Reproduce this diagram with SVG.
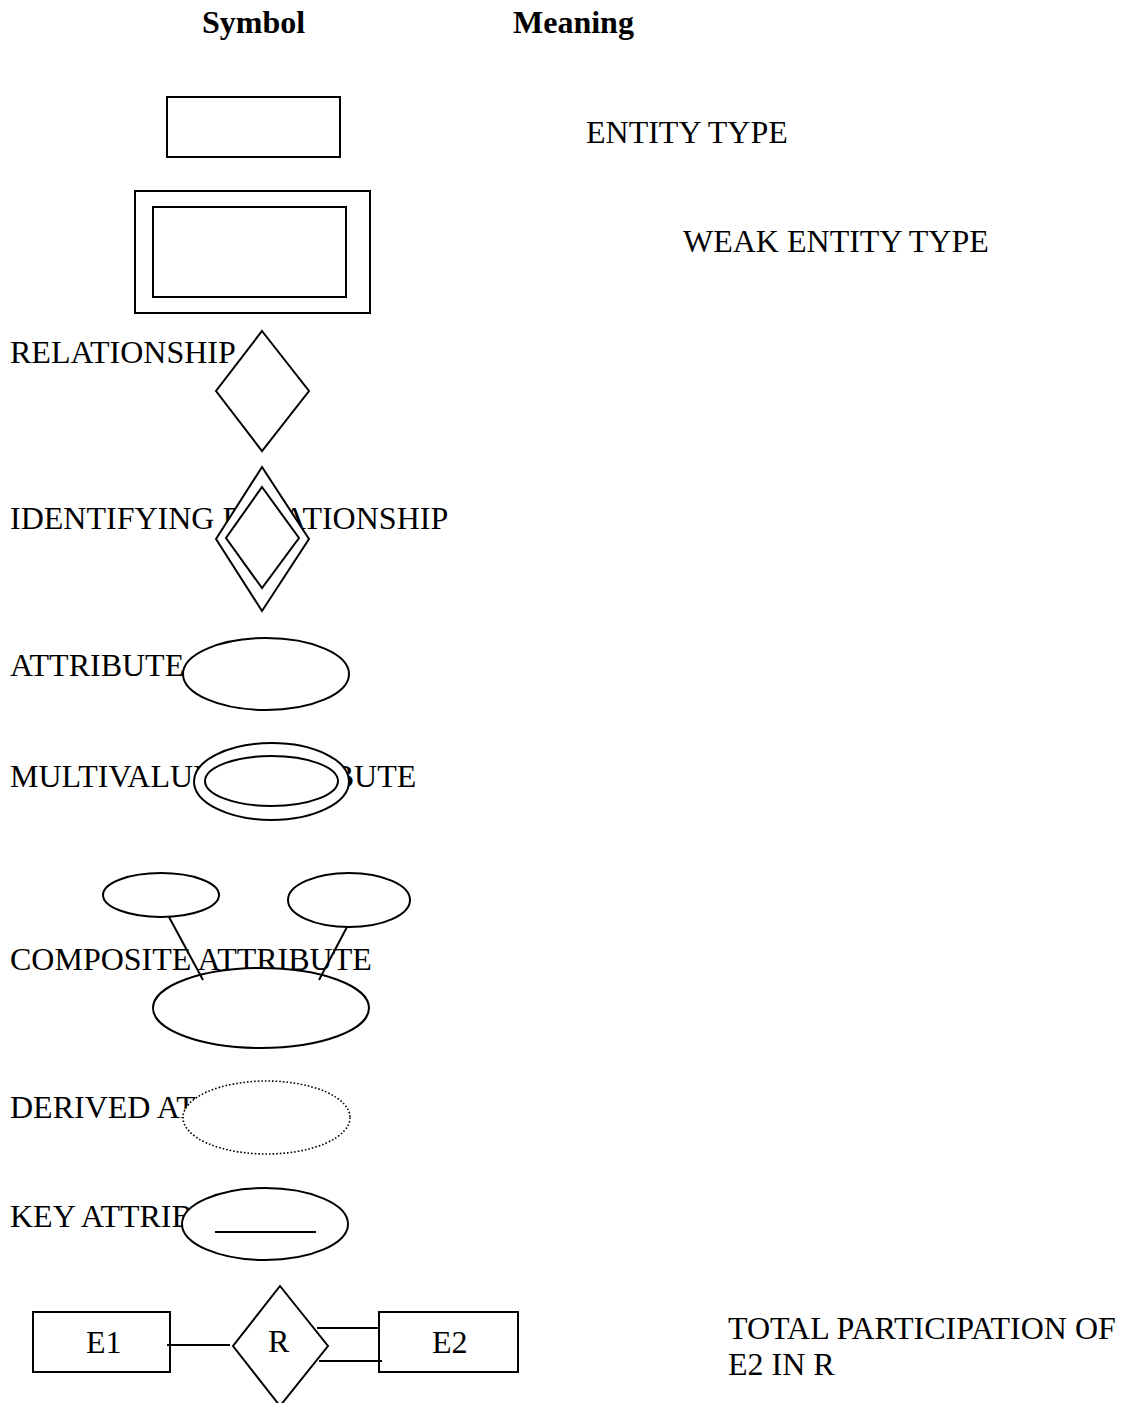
<svg xmlns="http://www.w3.org/2000/svg" width="1143" height="1403" viewBox="0 0 1143 1403">
<style>
text{font-family:"Liberation Serif","Times New Roman",serif;font-size:32px;fill:#000}
.h{font-weight:bold}
.s{fill:#fff;stroke:#000;stroke-width:2}
.dot{fill:#fff;stroke:#000;stroke-width:1.6;stroke-dasharray:1.6 2}
.ln{stroke:#000;stroke-width:2;fill:none}
</style>
<rect width="1143" height="1403" fill="#fff"/>
<g id="labels">
<text class="h" x="202" y="33">Symbol</text>
<text class="h" x="513" y="33">Meaning</text>
<text x="586" y="143">ENTITY TYPE</text>
<text x="683" y="252">WEAK ENTITY TYPE</text>
<text x="10" y="363">RELATIONSHIP</text>
<text x="10" y="529">IDENTIFYING RELATIONSHIP</text>
<text x="10" y="676">ATTRIBUTE</text>
<text x="10" y="787">MULTIVALUED ATTRIBUTE</text>
<text x="10" y="970">COMPOSITE ATTRIBUTE</text>
<text x="10" y="1118">DERIVED ATTRIBUTE</text>
<text x="10" y="1227">KEY ATTRIBUTE</text>
<text x="728" y="1339">TOTAL PARTICIPATION OF</text>
<text x="728" y="1375">E2 IN R</text>
</g>
<g id="entity"><rect class="s" x="167" y="97" width="173" height="60"/></g>
<g id="weak-entity">
<rect class="s" x="135" y="191" width="235" height="122"/>
<rect class="s" x="153" y="207" width="193" height="90"/>
</g>
<g id="relationship"><polygon class="s" points="262,331 309,391 262,451 216,391"/></g>
<g id="identifying-relationship">
<polygon class="s" points="262,467 309,539 262,611 216,539"/>
<polygon class="s" points="262,487 299,538 262,588 226,538"/>
</g>
<g id="attribute"><ellipse class="s" cx="266" cy="674" rx="83" ry="36"/></g>
<g id="multivalued-attribute">
<ellipse class="s" cx="271.5" cy="781.5" rx="77.5" ry="38.5"/>
<ellipse class="s" cx="271.5" cy="781" rx="66.5" ry="25"/>
</g>
<g id="composite-part1"><ellipse class="s" cx="161" cy="895" rx="58" ry="22"/></g>
<g id="composite-part2"><ellipse class="s" cx="349" cy="900" rx="61" ry="27"/></g>
<g id="composite-attribute"><ellipse class="s" cx="261" cy="1008" rx="108" ry="40"/></g>
<g id="derived-attribute"><ellipse class="dot" cx="266.5" cy="1117.5" rx="83.5" ry="36.5"/></g>
<g id="key-attribute">
<ellipse class="s" cx="265" cy="1224" rx="83" ry="36"/>
<line class="ln" x1="215" y1="1232" x2="316" y2="1232"/>
</g>
<g id="E1">
<rect class="s" x="33" y="1312" width="137" height="60"/>
<text x="86" y="1353">E1</text>
</g>
<g id="R">
<polygon class="s" points="280,1286 328,1346 280,1406 233,1346"/>
<text x="268" y="1352">R</text>
</g>
<g id="E2">
<rect class="s" x="379" y="1312" width="139" height="60"/>
<text x="432" y="1353">E2</text>
</g>
<g id="connectors">
<line class="ln" x1="169" y1="917" x2="203" y2="980"/>
<line class="ln" x1="347" y1="927" x2="319" y2="980"/>
<line class="ln" x1="167" y1="1345" x2="230" y2="1345"/>
<line class="ln" x1="317" y1="1328" x2="380" y2="1328"/>
<line class="ln" x1="319" y1="1361" x2="382" y2="1361"/>
</g>
</svg>
